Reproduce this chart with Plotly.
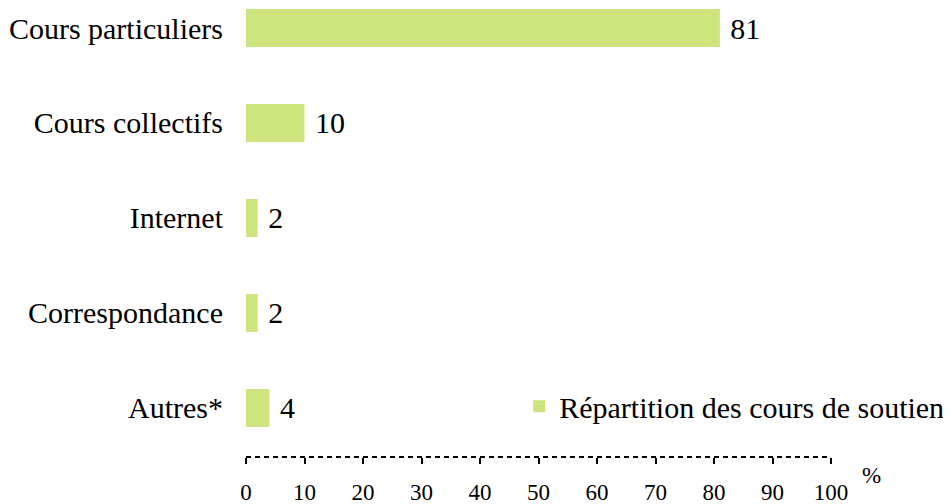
import plotly.graph_objects as go

categories = ["Cours particuliers", "Cours collectifs", "Internet", "Correspondance", "Autres*"]
values = [81, 10, 2, 2, 4]
x_ticks = [0, 10, 20, 30, 40, 50, 60, 70, 80, 90, 100]
series_name = "Répartition des cours de soutien"

BAR = "#CDE47F"
FONT = "Liberation Serif, Times New Roman, serif"

fig = go.Figure()
fig.add_trace(go.Bar(
    x=values, y=categories, orientation="h",
    marker=dict(color=BAR, line=dict(width=0)),
    width=0.4,
    text=[" " + str(v) for v in values], textposition="outside",
    textfont=dict(family=FONT, size=30, color="black"),
    cliponaxis=False,
    name=series_name, showlegend=True,
))

fig.update_layout(
    width=951, height=504,
    margin=dict(l=238, r=128, t=0, b=55, autoexpand=False),
    paper_bgcolor="white", plot_bgcolor="white",
    font=dict(family=FONT, color="black"),
    showlegend=True,
    legend=dict(x=0.467, y=0.113, xanchor="left", yanchor="middle",
                font=dict(family=FONT, size=30), bgcolor="rgba(0,0,0,0)",
                itemwidth=30),
    xaxis=dict(range=[0, 100], tickvals=x_ticks, ticktext=[str(t) for t in x_ticks],
               showgrid=False, zeroline=False, showline=False, automargin=False,
               ticks="outside", ticklen=6, tickwidth=2, tickcolor="black",
               ticklabelstandoff=8,
               tickfont=dict(family=FONT, size=23, color="black")),
    yaxis=dict(type="category", categoryorder="array", categoryarray=categories,
               range=[4.516, -0.2105], showgrid=False, zeroline=False, showline=False,
               automargin=False,
               ticks="", ticklabelstandoff=22,
               tickfont=dict(family=FONT, size=30, color="black")),
)

fig.add_shape(type="line", xref="x", yref="paper", x0=0, x1=100, y0=0, y1=0,
              line=dict(color="black", width=2, dash="5px,4px"))

fig.add_annotation(text="%", xref="paper", yref="paper", x=1.089, y=-0.073,
                   showarrow=False, font=dict(family=FONT, size=23, color="black"))

fig.write_html("out.html")
